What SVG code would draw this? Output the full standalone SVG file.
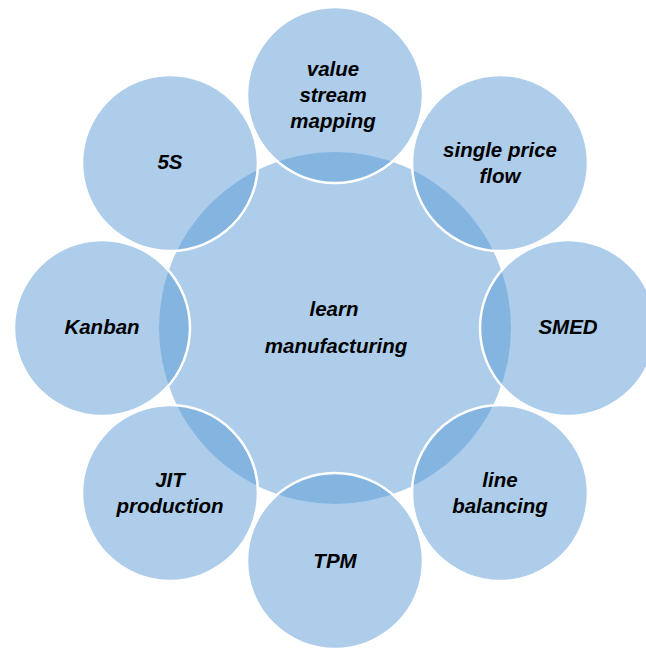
<svg xmlns="http://www.w3.org/2000/svg" width="646" height="648" viewBox="0 0 646 648">
<style>
.c{fill:#5b9bd5;fill-opacity:0.5}
.o{fill:#5b9bd5;fill-opacity:0.5;stroke:#ffffff;stroke-width:2.5}
text{font-family:"Liberation Sans",Arial,sans-serif;font-weight:bold;font-style:italic;font-size:20.5px;fill:#000;text-anchor:middle}
</style>
<rect width="646" height="648" fill="#ffffff"/>
<g id="center"><circle class="c" cx="335" cy="328" r="176"/><text x="334" y="316">learn</text><text x="336" y="353">manufacturing</text></g>
<g id="vsm"><circle class="o" cx="335" cy="95" r="88"/><text x="333" y="76">value</text><text x="333" y="102">stream</text><text x="333" y="128">mapping</text></g>
<g id="spf"><circle class="o" cx="500" cy="163" r="88"/><text x="500" y="157">single price</text><text x="500" y="183">flow</text></g>
<g id="smed"><circle class="o" cx="568" cy="328" r="88"/><text x="568" y="334">SMED</text></g>
<g id="lb"><circle class="o" cx="500" cy="493" r="88"/><text x="500" y="487">line</text><text x="500" y="513">balancing</text></g>
<g id="tpm"><circle class="o" cx="335" cy="561" r="88"/><text x="335" y="568">TPM</text></g>
<g id="jit"><circle class="o" cx="170" cy="493" r="88"/><text x="170" y="487">JIT</text><text x="170" y="513">production</text></g>
<g id="kanban"><circle class="o" cx="102" cy="328" r="88"/><text x="102" y="334">Kanban</text></g>
<g id="s5"><circle class="o" cx="170" cy="163" r="88"/><text x="170" y="169">5S</text></g>
<g id="connectors"></g>
</svg>
